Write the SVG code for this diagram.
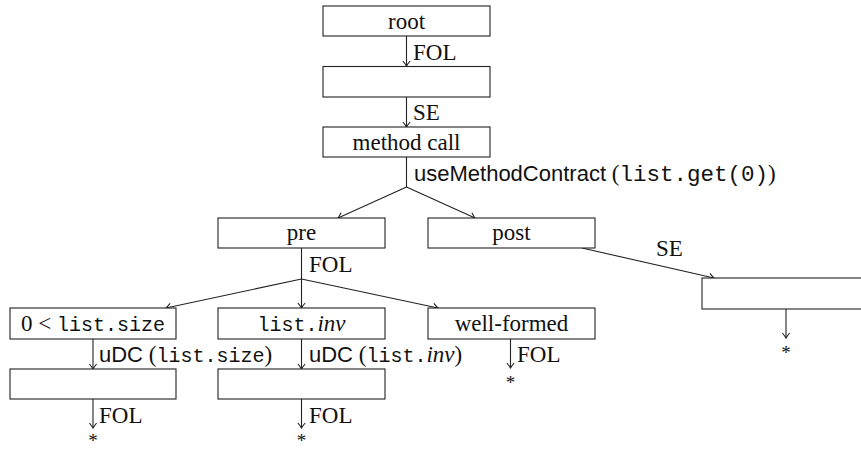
<svg xmlns="http://www.w3.org/2000/svg" width="861" height="450" viewBox="0 0 861 450">
<style>
  .box { fill: #fff; stroke: #222; stroke-width: 1.1; }
  .t { font-family: "Liberation Serif", serif; font-size: 23px; fill: #111; }
  .c { text-anchor: middle; }
  .m { font-family: "Liberation Mono", monospace; font-size: 20px; }
  .mb { font-family: "Liberation Mono", monospace; font-size: 22.5px; }
  .s { font-family: "Liberation Sans", sans-serif; font-size: 22px; }
  .i { font-style: italic; }
  .edge { fill: none; stroke: #222; stroke-width: 1.1; }
  .star { font-family: "Liberation Serif", serif; font-size: 19px; fill: #111; text-anchor: middle; }
</style>
<defs>
  <marker id="arr" viewBox="-6 -5 8 10" refX="0" refY="0" markerWidth="8" markerHeight="10" markerUnits="userSpaceOnUse" orient="auto">
    <path d="M-5,-3.6 Q-1.5,-0.8 0,0 Q-1.5,0.8 -5,3.6" fill="none" stroke="#222" stroke-width="1.1"/>
  </marker>
</defs>
<rect width="861" height="450" fill="#fff"/>

<g id="connectors">
  <line class="edge" x1="406.5" y1="36" x2="406.5" y2="66" marker-end="url(#arr)"/>
  <line class="edge" x1="406.5" y1="97" x2="406.5" y2="127" marker-end="url(#arr)"/>
  <polyline class="edge" points="406.5,157 406.5,187"/>
  <line class="edge" x1="406.5" y1="187" x2="338" y2="218" marker-end="url(#arr)"/>
  <line class="edge" x1="406.5" y1="187" x2="475" y2="218" marker-end="url(#arr)"/>
  <line class="edge" x1="301.5" y1="248" x2="301.5" y2="279"/>
  <line class="edge" x1="301.5" y1="279" x2="166" y2="308" marker-end="url(#arr)"/>
  <line class="edge" x1="301.5" y1="279" x2="301.5" y2="308" marker-end="url(#arr)"/>
  <line class="edge" x1="301.5" y1="279" x2="438" y2="308" marker-end="url(#arr)"/>
  <line class="edge" x1="582" y1="248" x2="714" y2="278" marker-end="url(#arr)"/>
  <line class="edge" x1="93" y1="339" x2="93" y2="369" marker-end="url(#arr)"/>
  <line class="edge" x1="93" y1="399" x2="93" y2="428" marker-end="url(#arr)"/>
  <line class="edge" x1="301.5" y1="339" x2="301.5" y2="369" marker-end="url(#arr)"/>
  <line class="edge" x1="301.5" y1="399" x2="301.5" y2="428" marker-end="url(#arr)"/>
  <line class="edge" x1="510.5" y1="339" x2="510.5" y2="368" marker-end="url(#arr)"/>
  <line class="edge" x1="786" y1="309" x2="786" y2="338" marker-end="url(#arr)"/>

  <text class="t" x="413" y="60">FOL</text>
  <text class="t" x="413" y="120">SE</text>
  <text class="t" x="414" y="181"><tspan class="s">useMethodContract</tspan> (<tspan class="mb">list.get(0)</tspan>)</text>
  <text class="t" x="309" y="272">FOL</text>
  <text class="t" x="656" y="256">SE</text>
  <text class="t" x="99" y="362"><tspan class="s">uDC</tspan> (<tspan class="m">list.size</tspan>)</text>
  <text class="t" x="309" y="362"><tspan class="s">uDC</tspan> (<tspan class="m">list.</tspan><tspan class="i">inv</tspan>)</text>
  <text class="t" x="99" y="423">FOL</text>
  <text class="t" x="309" y="423">FOL</text>
  <text class="t" x="517" y="362">FOL</text>
  <text class="star" x="93" y="447">*</text>
  <text class="star" x="301.5" y="447">*</text>
  <text class="star" x="510.5" y="389">*</text>
  <text class="star" x="786" y="359">*</text>
</g>

<g id="root"><rect class="box" x="323" y="6" width="167" height="30"/><text class="t c" x="406.5" y="29">root</text></g>
<g id="empty1"><rect class="box" x="323" y="66.5" width="167" height="30.5"/></g>
<g id="methodcall"><rect class="box" x="323" y="127" width="167" height="30"/><text class="t c" x="406.5" y="150">method call</text></g>
<g id="pre"><rect class="box" x="218" y="218" width="167" height="30"/><text class="t c" x="301.5" y="240">pre</text></g>
<g id="post"><rect class="box" x="428" y="218" width="167" height="30"/><text class="t c" x="511.5" y="240">post</text></g>
<g id="size"><rect class="box" x="10" y="308" width="166" height="31"/><text class="t c" x="93" y="331">0 &lt; <tspan class="m">list.size</tspan></text></g>
<g id="inv"><rect class="box" x="218" y="308" width="167" height="31"/><text class="t c" x="301.5" y="331"><tspan class="m">list.</tspan><tspan class="i">inv</tspan></text></g>
<g id="wellformed"><rect class="box" x="428" y="308" width="167" height="31"/><text class="t c" x="511.5" y="331">well-formed</text></g>
<g id="sizeempty"><rect class="box" x="10" y="369" width="166" height="30"/></g>
<g id="invempty"><rect class="box" x="218" y="369" width="167" height="30"/></g>
<g id="postempty"><rect class="box" x="702" y="278" width="170" height="31"/></g>
</svg>
